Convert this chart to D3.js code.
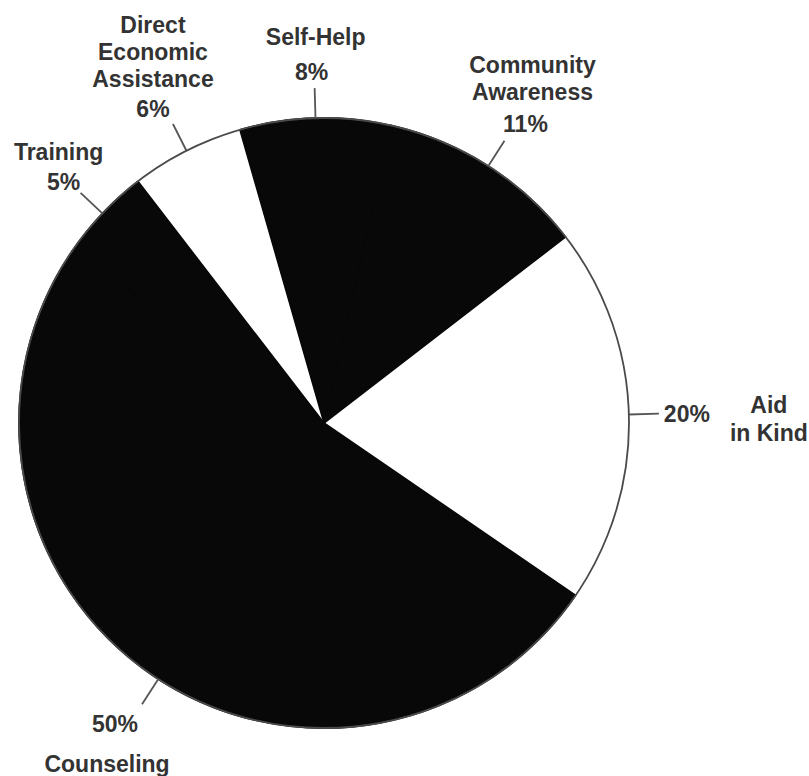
<!DOCTYPE html>
<html>
<head>
<meta charset="utf-8">
<script src="https://cdn.jsdelivr.net/npm/d3@7/dist/d3.min.js"></script>
<style>
  html, body { margin: 0; padding: 0; background: #fff; }
  svg { display: block; }
  text { font-family: "Liberation Sans", Arial, Helvetica, sans-serif; font-weight: bold; font-size: 23px; fill: #333; }
</style>
</head>
<body>
<svg id="chart" width="809" height="776"></svg>
<script>
// Program share by activity, clockwise from the top
const categories = ["Self-Help", "Community Awareness", "Aid in Kind", "Counseling", "Training", "Direct Economic Assistance"];
const percentages = [8, 11, 20, 50, 5, 6];
const nameLines = [["Self-Help"], ["Community", "Awareness"], ["Aid", "in Kind"], ["Counseling"], ["Training"], ["Direct", "Economic", "Assistance"]];
const sliceFills = ["#080808", "#080808", "#ffffff", "#080808", "#080808", "#ffffff"];

// Label placement relative to the outer end of each leader tick
const labelLayout = [
  { style: "above", dxName: 1,   dxValue: -3,  valueDy: -8,  gap: 35 },
  { style: "above", dxName: 28,  dxValue: 21,  valueDy: -9,  gap: 32 },
  { style: "right", dxValue: 5,  valueDy: 8,   dxName: 110, nameDy: -1 },
  { style: "below", dxName: -35, dxValue: -27, valueDy: 28,  gap: 40, nudge: -1.5 },
  { style: "above", dxName: -22, dxValue: -17, valueDy: -3,  gap: 30 },
  { style: "above", dxName: -20, dxValue: -20, valueDy: -7,  gap: 30 }
];

const width = 809, height = 776;
const cx = 324, cy = 423, radius = 305, tickLen = 30, lineH = 27;
const startDeg = -16;

const svg = d3.select("#chart");
const g = svg.append("g").attr("transform", `translate(${cx},${cy})`);

const rad = d => d * Math.PI / 180;
const pie = d3.pie().sort(null).value(d => d)
  .startAngle(rad(startDeg)).endAngle(rad(startDeg) + 2 * Math.PI);
const arcs = pie(percentages);
const arc = d3.arc().innerRadius(0).outerRadius(radius);

// White slices first, then the dark ones with a matching stroke so
// neighbouring dark slices merge without a visible seam
const order = arcs.map((a, i) => i).sort((i, j) => (sliceFills[i] === "#ffffff" ? 0 : 1) - (sliceFills[j] === "#ffffff" ? 0 : 1));
g.selectAll("path.slice")
  .data(order.map(i => ({ a: arcs[i], i })))
  .join("path")
  .attr("class", "slice")
  .attr("d", d => arc(d.a))
  .attr("fill", d => sliceFills[d.i])
  .attr("stroke", d => sliceFills[d.i] === "#ffffff" ? "none" : sliceFills[d.i])
  .attr("stroke-width", 1.6)
  .attr("stroke-linejoin", "round");

// Outer rim of the pie
g.append("circle")
  .attr("r", radius)
  .attr("fill", "none")
  .attr("stroke", "#4a4a4a")
  .attr("stroke-width", 1.8);

// Leader ticks and labels
arcs.forEach((a, i) => {
  const L = labelLayout[i];
  const mid = (a.startAngle + a.endAngle) / 2 + rad(L.nudge || 0);
  const p0 = d3.pointRadial(mid, radius);
  const p1 = d3.pointRadial(mid, radius + tickLen);

  g.append("line")
    .attr("x1", p0[0]).attr("y1", p0[1])
    .attr("x2", p1[0]).attr("y2", p1[1])
    .attr("stroke", "#555")
    .attr("stroke-width", 1.8);

  const valueText = percentages[i] + "%";
  const lines = nameLines[i];

  if (L.style === "above") {
    const vy = p1[1] + L.valueDy;
    g.append("text").attr("text-anchor", "middle")
      .attr("x", p1[0] + L.dxValue).attr("y", vy).text(valueText);
    const lastName = vy - L.gap;
    lines.forEach((t, k) => {
      g.append("text").attr("text-anchor", "middle")
        .attr("x", p1[0] + L.dxName)
        .attr("y", lastName - (lines.length - 1 - k) * lineH)
        .text(t);
    });
  } else if (L.style === "below") {
    const vy = p1[1] + L.valueDy;
    g.append("text").attr("text-anchor", "middle")
      .attr("x", p1[0] + L.dxValue).attr("y", vy).text(valueText);
    lines.forEach((t, k) => {
      g.append("text").attr("text-anchor", "middle")
        .attr("x", p1[0] + L.dxName)
        .attr("y", vy + L.gap + k * lineH)
        .text(t);
    });
  } else {
    g.append("text").attr("text-anchor", "start")
      .attr("x", p1[0] + L.dxValue).attr("y", p1[1] + L.valueDy).text(valueText);
    lines.forEach((t, k) => {
      g.append("text").attr("text-anchor", "middle")
        .attr("x", p1[0] + L.dxName)
        .attr("y", p1[1] + L.nameDy + k * (lineH + 1))
        .text(t);
    });
  }
});
</script>
</body>
</html>
